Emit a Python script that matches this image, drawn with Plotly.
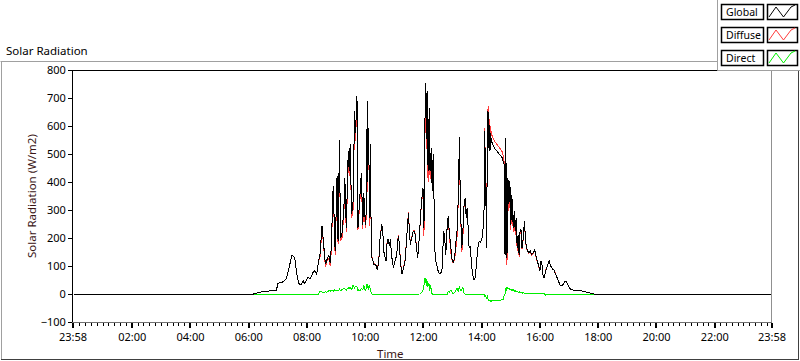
import plotly.graph_objects as go
import pandas as pd

# ---------------- data ----------------
times = [
    "00:00", "06:10", "06:15", "06:25", "06:33", "06:45", "06:57", "07:00", "07:05", "07:10", "07:14", "07:17", "07:20",
    "07:23", "07:26", "07:29", "07:32", "07:35", "07:39", "07:43", "07:46", "07:48", "07:52", "07:55", "07:59",
    "08:02", "08:07", "08:12", "08:16", "08:20", "08:24", "08:27", "08:31", "08:34", "08:38", "08:41", "08:45", "08:48",
    "08:50", "08:54", "08:56", "08:58",
    "09:02", "09:04", "09:07", "09:09", "09:12", "09:16", "09:18", "09:21", "09:25", "09:27", "09:29", "09:32", "09:35",
    "09:38", "09:40", "09:43", "09:45", "09:47", "09:49", "09:52", "09:55", "09:57", "09:59",
    "10:01", "10:03", "10:04", "10:05", "10:07", "10:09", "10:11", "10:12", "10:14", "10:18", "10:22", "10:25", "10:28",
    "10:30", "10:34", "10:36", "10:39", "10:43", "10:45", "10:47", "10:50", "10:52", "10:54", "10:58",
    "11:01", "11:05", "11:08", "11:10", "11:13", "11:16", "11:19", "11:22", "11:24", "11:27", "11:29", "11:31", "11:33",
    "11:36", "11:39", "11:42", "11:45", "11:48", "11:50", "11:53", "11:56", "11:59",
    "12:01", "12:03", "12:05", "12:06", "12:07", "12:08", "12:09", "12:10", "12:12", "12:13", "12:14", "12:16", "12:17",
    "12:18", "12:20", "12:22", "12:23", "12:24", "12:27", "12:31", "12:34", "12:38", "12:40", "12:42", "12:44", "12:46",
    "12:49", "12:51", "12:53", "12:56", "12:59",
    "13:01", "13:04", "13:07", "13:09", "13:12", "13:14", "13:16", "13:19", "13:21", "13:23", "13:26", "13:28", "13:30",
    "13:32", "13:34", "13:36", "13:38", "13:41", "13:44", "13:47", "13:49", "13:52", "13:55", "13:58",
    "14:01", "14:03", "14:05", "14:06", "14:08", "14:10", "14:12", "14:13", "14:14", "14:15", "14:17", "14:18", "14:20",
    "14:23", "14:26", "14:28", "14:31", "14:34", "14:36", "14:39", "14:42", "14:44", "14:46", "14:48", "14:49", "14:50",
    "14:52", "14:54", "14:56", "14:58",
    "15:00", "15:02", "15:05", "15:07", "15:09", "15:11", "15:13", "15:15", "15:17", "15:19", "15:21", "15:23", "15:25",
    "15:28", "15:30", "15:32", "15:35", "15:37", "15:40", "15:43", "15:46", "15:49", "15:51", "15:54", "15:57",
    "16:00", "16:02", "16:04", "16:07", "16:09", "16:12", "16:15", "16:19", "16:22", "16:25", "16:29", "16:32", "16:35",
    "16:39", "16:42", "16:45", "16:49", "16:52", "16:55", "16:59", "17:02", "17:05", "17:12", "17:19", "17:25", "17:32",
    "17:39", "17:46", "17:52", "23:58",
]

global_wm2 = [
    0, 0, 3, 7, 10, 11, 12, 38, 40, 43, 48, 54, 70, 94, 118, 139, 134, 128, 71, 38, 32, 34, 48, 37, 48,
    60, 55, 76, 84, 70, 118, 144, 243, 189, 106, 122, 140, 110, 165, 386, 296, 153,
    421, 189, 550, 201, 212, 306, 414, 237, 511, 439, 534, 285, 332, 654, 576, 707, 237, 300, 332, 433, 248, 362, 284,
    248, 355, 691, 400, 594, 273, 534, 248, 129, 106, 103, 85, 118, 189, 248, 225, 141, 118, 183, 195, 171, 195, 141, 94,
    118, 141, 207, 183, 106, 70, 94, 118, 165, 248, 290, 225, 177, 201, 225, 225, 171, 129, 165, 260, 332, 379,
    237, 618, 755, 600, 594, 460, 725, 439, 666, 450, 439, 522, 400, 368, 499, 332, 189, 129, 106, 76, 73, 80, 165, 225,
    190, 141, 248, 277, 225, 165, 123,
    112, 125, 189, 218, 355, 561, 320, 165, 212, 308, 344, 273, 308, 225, 165, 170, 118, 70, 52, 58, 106, 165, 189, 185,
    201, 237, 308, 583, 420, 165, 654, 522, 650, 558, 511, 575, 546, 534, 522, 516, 511, 505, 499, 493, 487, 475, 465,
    141, 558, 475, 129, 415, 320, 403,
    248, 355, 237, 296, 225, 273, 165, 212, 141, 225, 230, 165, 190, 260, 200, 165, 153, 147, 153, 141, 147, 159, 141,
    118, 101,
    83, 118, 106, 57, 60, 83, 98, 120, 100, 91, 85, 71, 54, 42, 30, 30, 37, 46, 42, 25, 19, 15, 12, 11, 11, 8, 5, 2, 0, 0,
]

diffuse_wm2 = [
    0, 0, 3, 7, 10, 11, 12, 38, 40, 43, 48, 54, 70, 94, 118, 139, 134, 128, 71, 38, 32, 34, 48, 37, 48,
    60, 55, 76, 84, 70, 118, 134, 235, 184, 98, 116, 128, 100, 151, 376, 281, 141,
    407, 179, 532, 189, 197, 286, 396, 223, 489, 421, 509, 270, 301, 634, 548, 682, 227, 285, 320, 413, 233, 332, 266,
    236, 320, 671, 363, 579, 243, 524, 243, 129, 108, 105, 87, 120, 191, 250, 227, 143, 120, 185, 197, 173, 197, 143, 96,
    120, 143, 209, 185, 108, 72, 96, 120, 167, 250, 292, 227, 179, 203, 227, 227, 173, 131, 167, 260, 327, 364,
    207, 560, 715, 545, 564, 414, 700, 399, 631, 440, 409, 502, 395, 368, 499, 332, 189, 129, 106, 76, 73, 80, 165, 225,
    190, 141, 248, 267, 220, 150, 120,
    112, 120, 177, 198, 347, 531, 310, 150, 187, 303, 344, 273, 308, 225, 165, 170, 118, 70, 52, 58, 106, 165, 189, 185,
    201, 237, 308, 593, 425, 183, 659, 542, 672, 583, 533, 600, 571, 558, 544, 541, 535, 528, 524, 517, 509, 495, 473,
    141, 538, 463, 104, 397, 298, 388,
    230, 343, 221, 286, 211, 265, 155, 206, 133, 221, 224, 162, 186, 258, 198, 163, 151, 145, 151, 139, 145, 157, 139,
    116, 99,
    83, 118, 106, 57, 60, 87, 98, 120, 100, 91, 85, 71, 58, 42, 30, 30, 37, 46, 42, 25, 19, 15, 12, 11, 11, 8, 5, 2, 0, 0,
]

direct_wm2 = [
    0, 0, 0, 0, 0, 0, 0, 0, 0, 0, 0, 0, 0, 0, 0, 0, 0, 0, 0, 0, 0, 0, 0, 0, 0,
    0, 0, 0, 0, 0, 0, 10, 8, 5, 8, 6, 12, 10, 14, 10, 15, 12,
    14, 10, 18, 12, 15, 20, 18, 14, 22, 18, 25, 15, 31, 20, 28, 25, 10, 15, 12, 20, 15, 30, 18,
    12, 35, 20, 37, 15, 30, 10, 5, 0, -2, -2, -2, -2, -2, -2, -2, -2, -2, -2, -2, -2, -2, -2, -2,
    -2, -2, -2, -2, -2, -2, -2, -2, -2, -2, -2, -2, -2, -2, -2, -2, -2, -2, -2, 0, 5, 15,
    30, 58, 40, 55, 30, 46, 25, 40, 35, 10, 30, 20, 5, 0, 0, 0, 0, 0, 0, 0, 0, 0, 0, 0,
    0, 0, 0, 10, 5, 15, 3,
    0, 5, 12, 20, 8, 30, 10, 15, 25, 5, 0, 0, 0, 0, 0, 0, 0, 0, 0, 0, 0, 0, 0, 0,
    0, 0, 0, -10, -5, -18, -5, -20, -22, -25, -22, -25, -25, -24, -22, -25, -24, -23, -25, -24, -22, -20, -8,
    0, 20, 12, 25, 18, 22, 15,
    18, 12, 16, 10, 14, 8, 10, 6, 8, 4, 6, 3, 4, 2, 2, 2, 2, 2, 2, 2, 2, 2, 2,
    2, 2,
    0, 0, 0, 0, 0, -4, 0, 0, 0, 0, 0, 0, -4, 0, 0, 0, 0, 0, 0, 0, 0, 0, 0, 0, 0, 0, 0, 0, 0, 0,
]

series_names = ["Global", "Diffuse", "Direct"]
series_colors = ["#000000", "#ff3c3c", "#00ee00"]

x_tick_times = ["2024-01-01 23:58", "2024-01-02 02:00", "2024-01-02 04:00", "2024-01-02 06:00",
                "2024-01-02 08:00", "2024-01-02 10:00", "2024-01-02 12:00", "2024-01-02 14:00",
                "2024-01-02 16:00", "2024-01-02 18:00", "2024-01-02 20:00", "2024-01-02 22:00",
                "2024-01-02 23:58"]
x_tick_labels = ["23:58", "02:00", "04:00", "06:00", "08:00", "10:00", "12:00", "14:00",
                 "16:00", "18:00", "20:00", "22:00", "23:58"]
y_ticks = [-100, 0, 100, 200, 300, 400, 500, 600, 700, 800]

x = pd.to_datetime(["2024-01-02 " + t for t in times])

# ---------------- figure ----------------
W, H = 800, 361
L, R, T, B = 73, 772, 70, 322
FONT = "Noto Sans"


def fx(px):
    return (px - L) / (R - L)


def fy(py):
    return (B - py) / (B - T)


fig = go.Figure()
for name, vals, col in [("Direct", direct_wm2, series_colors[2]),
                        ("Diffuse", diffuse_wm2, series_colors[1]),
                        ("Global", global_wm2, series_colors[0])]:
    fig.add_trace(go.Scatter(x=x, y=vals, mode="lines", name=name,
                             line=dict(color=col, width=1)))

shapes = []


def hline(x0, x1, y, color, width=1):
    shapes.append(dict(type="line", xref="paper", yref="paper", x0=fx(x0), x1=fx(x1),
                       y0=fy(y), y1=fy(y), line=dict(color=color, width=width), layer="above"))


def vline(xp, y0, y1, color, width=1):
    shapes.append(dict(type="line", xref="paper", yref="paper", x0=fx(xp), x1=fx(xp),
                       y0=fy(y0), y1=fy(y1), line=dict(color=color, width=width), layer="above"))


def rect(x0, y0, x1, y1, color, fill="white", width=1):
    shapes.append(dict(type="rect", xref="paper", yref="paper", x0=fx(x0), x1=fx(x1),
                       y0=fy(y1), y1=fy(y0), line=dict(color=color, width=width),
                       fillcolor=fill, layer="above"))


# outer frame
hline(0.5, 717, 61.5, "#a0a0a0")
vline(1.5, 61.5, 360, "#a0a0a0")
hline(1, 799, 359.5, "#404040")
vline(798.5, 61.5, 360, "#404040")
# plot area border
hline(73, 772, 70.5, "#000000")
vline(771.5, 70, 322, "#909090")

# legend panel
rect(717.5, -2, 802, 70.5, "#a0a0a0", fill="white")
rows = [(4.5, 19.5), (27.5, 42.5), (50.5, 65.5)]
annotations = []
for (ya, yb), name, col in zip(rows, series_names, series_colors):
    rect(721.5, ya, 763.5, yb, "#000000", width=1.5)
    rect(767.5, ya, 797.5, yb, "#000000", width=1.5)
    pts = [(769, yb - 2.5), (776, ya + 2.5), (783.5, yb - 2.5), (791, ya + 2.5), (795, ya + 0.5)]
    path = "M " + " L ".join(f"{fx(px)},{fy(py)}" for px, py in pts)
    shapes.append(dict(type="path", xref="paper", yref="paper", path=path,
                       line=dict(color=col, width=1), layer="above"))
    annotations.append(dict(text=name, xref="paper", yref="paper", x=fx(723.5), y=fy((ya + yb) / 2),
                            xanchor="left", yanchor="middle", showarrow=False,
                            font=dict(family=FONT, size=10.5, color="#000000")))

annotations.append(dict(text="Solar Radiation", xref="paper", yref="paper", x=fx(4), y=fy(50),
                        xanchor="left", yanchor="middle", showarrow=False,
                        font=dict(family=FONT, size=11.5, color="#000000")))
annotations.append(dict(text="Solar Radiation (W/m2)", xref="paper", yref="paper", x=fx(31), y=fy(196),
                        xanchor="center", yanchor="middle", textangle=-90, showarrow=False,
                        font=dict(family=FONT, size=11.5, color="#3a1616")))
annotations.append(dict(text="Time", xref="paper", yref="paper", x=fx(390), y=fy(353),
                        xanchor="center", yanchor="middle", showarrow=False,
                        font=dict(family=FONT, size=11.5, color="#3a1616")))

fig.update_layout(
    width=W, height=H,
    margin=dict(l=L, r=W - R, t=T, b=H - B, autoexpand=False),
    paper_bgcolor="white", plot_bgcolor="white",
    showlegend=False,
    font=dict(family=FONT, size=11, color="#000000"),
    shapes=shapes, annotations=annotations,
    xaxis=dict(
        type="date",
        range=["2024-01-01 23:58", "2024-01-02 23:58"],
        tickmode="array", tickvals=x_tick_times, ticktext=x_tick_labels,
        ticks="outside", ticklen=5, tickwidth=2, tickcolor="#000000",
        showgrid=False, zeroline=False,
        showline=True, linecolor="#707070", linewidth=1,
        tickfont=dict(family=FONT, size=11, color="#000000"),
        minor=dict(ticks="outside", ticklen=3, tickwidth=1, tickcolor="#000000",
                   dtick=12 * 60 * 1000, tick0="2024-01-02 00:00", showgrid=False),
    ),
    yaxis=dict(
        range=[-100, 800],
        tickmode="array", tickvals=y_ticks,
        ticks="outside", ticklen=4, tickwidth=1, tickcolor="#000000",
        showgrid=False, zeroline=False,
        showline=True, linecolor="#000000", linewidth=1,
        tickfont=dict(family=FONT, size=11, color="#000000"),
    ),
)

fig.write_html(
    "out.html",
    config={"displayModeBar": False},
    post_script=(
        "document.body.style.margin='0';document.body.style.padding='0';"
        "document.documentElement.style.overflow='hidden';"
        "document.querySelectorAll('.scatterlayer path.js-line').forEach(function(p){"
        "p.style.shapeRendering='crispEdges';});"
    ),
)
